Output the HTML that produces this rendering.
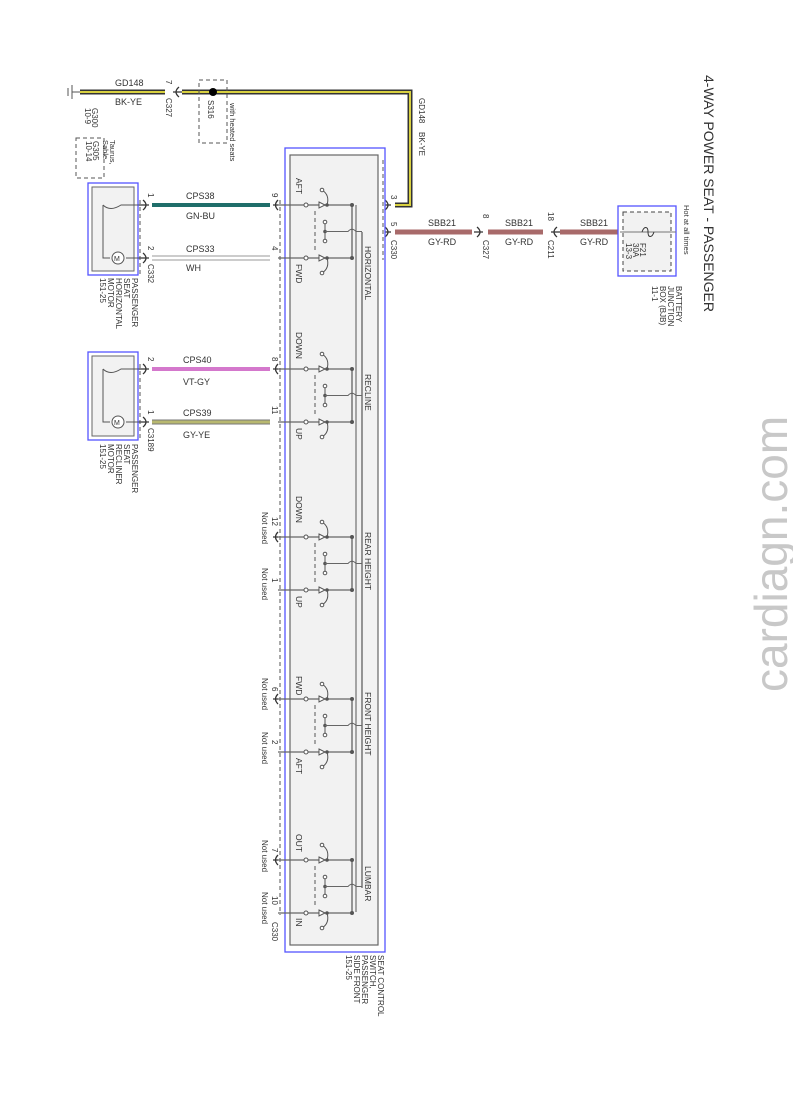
<!DOCTYPE html>
<html><head><meta charset="utf-8"><style>
html,body{margin:0;padding:0;background:#fff}
svg{display:block}
text{font-family:"Liberation Sans",sans-serif;fill:#333}
</style></head><body>
<svg width="793" height="1104" viewBox="0 0 793 1104" xmlns="http://www.w3.org/2000/svg">
<defs>
<g id="pair">
  <line x1="278" y1="0" x2="352" y2="0" stroke="#666" stroke-width="1.2"/>
  <line x1="278" y1="53" x2="352" y2="53" stroke="#666" stroke-width="1.2"/>
  <circle cx="306" cy="0" r="2" fill="#fff" stroke="#555"/>
  <circle cx="306" cy="53" r="2" fill="#fff" stroke="#555"/>
  <path d="M319,-3 L325,0 L319,3 Z M319,50 L325,53 L319,56 Z" fill="#fff" stroke="#555"/>
  <circle cx="327" cy="0" r="1.8" fill="#555"/><circle cx="327" cy="53" r="1.8" fill="#555"/>
  <path d="M327,0 Q330,-10 322,-15" fill="none" stroke="#555"/>
  <path d="M327,53 Q330,63 322,68" fill="none" stroke="#555"/>
  <circle cx="322" cy="-15" r="1.8" fill="#fff" stroke="#555"/>
  <circle cx="322" cy="68" r="1.8" fill="#fff" stroke="#555"/>
  <line x1="315" y1="6" x2="315" y2="48" stroke="#555" stroke-dasharray="4,3"/>
  <line x1="325" y1="16" x2="325" y2="37" stroke="#555"/>
  <circle cx="325" cy="17" r="1.8" fill="#fff" stroke="#555"/>
  <circle cx="325" cy="26.5" r="1.8" fill="#555"/>
  <circle cx="325" cy="36" r="1.8" fill="#fff" stroke="#555"/>
  <path d="M325,26.5 L348,26.5 Q352,22 356,26.5 L362,26.5" fill="none" stroke="#666"/>
  <line x1="352" y1="0" x2="352" y2="53" stroke="#555" stroke-width="1.2"/>
  <circle cx="352" cy="0" r="2" fill="#555"/><circle cx="352" cy="53" r="2" fill="#555"/>
  <path d="M278,-5 Q273,0 278,5 M273,0 L278,0" fill="none" stroke="#333" stroke-width="1.3"/>
</g>
</defs>

<text transform="translate(704,75) rotate(90)" font-size="14" fill="#222">4-WAY POWER SEAT - PASSENGER</text>
<text transform="translate(787,692) rotate(-90)" font-size="46" style="fill:#c8c8c8">cardiagn.com</text>

<line x1="72" y1="85" x2="72" y2="99" stroke="#555"/>
<line x1="68" y1="88" x2="68" y2="96" stroke="#555"/>
<line x1="72" y1="92" x2="80" y2="92" stroke="#555"/>
<path d="M80,92 L165,92 M182,92 L410,92 L410,205 L395,205" fill="none" stroke="#333" stroke-width="5"/>
<path d="M80,92 L165,92 M182,92 L410,92 L410,205 L395,205" fill="none" stroke="#d8d040" stroke-width="2"/>
<path d="M179,87 Q173,92 179,97 M173,92 L182,92" fill="none" stroke="#333" stroke-width="1.3"/>
<circle cx="213" cy="92" r="4" fill="#000"/>
<rect x="199" y="80" width="28" height="63" fill="none" stroke="#555" stroke-dasharray="4,3"/>
<rect x="76" y="138" width="28" height="40" fill="none" stroke="#555" stroke-dasharray="4,3"/>
<text x="115" y="86" font-size="9">GD148</text>
<text x="115" y="105" font-size="9">BK-YE</text>
<text transform="translate(166,80) rotate(90)" font-size="8">7</text>
<text transform="translate(166,98) rotate(90)" font-size="8">C327</text>
<text transform="translate(208,100) rotate(90)" font-size="8">S316</text>
<text transform="translate(230,103) rotate(90)" font-size="7.5">with heated seats</text>
<text transform="translate(92,108) rotate(90)" font-size="8">G300</text>
<text transform="translate(85,108) rotate(90)" font-size="8">10-9</text>
<text transform="translate(93,141) rotate(90)" font-size="8">G305</text>
<text transform="translate(86,141) rotate(90)" font-size="8">10-14</text>
<text transform="translate(110,140) rotate(90)" font-size="7.5">Taurus,</text>
<text transform="translate(103,140) rotate(90)" font-size="7.5">Sable</text>
<text transform="translate(419,98) rotate(90)" font-size="8">GD148</text>
<text transform="translate(419,132) rotate(90)" font-size="8">BK-YE</text>
<text transform="translate(391,195) rotate(90)" font-size="8">3</text>

<g stroke="#a86a6a" stroke-width="5">
<line x1="395" y1="232" x2="472" y2="232"/><line x1="488" y1="232" x2="543" y2="232"/><line x1="560" y1="232" x2="620" y2="232"/>
</g>
<path d="M477,227 Q483,232 477,237 M474,232 L483,232" fill="none" stroke="#333" stroke-width="1.3"/>
<path d="M557,227 Q551,232 557,237 M551,232 L560,232" fill="none" stroke="#333" stroke-width="1.3"/>
<path d="M385,200 Q391,205 385,210 M380,205 L391,205 M385,227 Q391,232 385,237 M362,232 L391,232" fill="none" stroke="#333" stroke-width="1.3"/>
<text x="428" y="226" font-size="9">SBB21</text><text x="428" y="245" font-size="9">GY-RD</text>
<text x="505" y="226" font-size="9">SBB21</text><text x="505" y="245" font-size="9">GY-RD</text>
<text x="580" y="226" font-size="9">SBB21</text><text x="580" y="245" font-size="9">GY-RD</text>
<text transform="translate(391,222) rotate(90)" font-size="8">5</text>
<text transform="translate(391,240) rotate(90)" font-size="8">C330</text>
<text transform="translate(483,214) rotate(90)" font-size="8">8</text>
<text transform="translate(483,240) rotate(90)" font-size="8">C327</text>
<text transform="translate(548,212) rotate(90)" font-size="8">18</text>
<text transform="translate(548,240) rotate(90)" font-size="8">C211</text>
<rect x="618" y="206" width="58" height="70" fill="#fff" stroke="#55f" stroke-width="1.3"/>
<rect x="623" y="212" width="48" height="59" fill="#f2f2f2" stroke="#444" stroke-dasharray="4,3"/>
<line x1="620" y1="232" x2="676" y2="232" stroke="#777"/>
<path d="M642,232 C644,226 648,226 648,232 C648,238 652,238 654,232" fill="none" stroke="#333"/>
<text transform="translate(640,243) rotate(90)" font-size="8">F21</text>
<text transform="translate(633,243) rotate(90)" font-size="8">30A</text>
<text transform="translate(626,243) rotate(90)" font-size="8">13-3</text>
<text transform="translate(684,205) rotate(90)" font-size="7.5">Hot at all times</text>
<text transform="translate(676,286) rotate(90)" font-size="8">BATTERY</text>
<text transform="translate(668,286) rotate(90)" font-size="8">JUNCTION</text>
<text transform="translate(660,286) rotate(90)" font-size="8">BOX (BJB)</text>
<text transform="translate(652,286) rotate(90)" font-size="8">11-1</text>

<rect x="285" y="148" width="100" height="804" fill="#fff" stroke="#55f" stroke-width="1.3"/>
<rect x="290" y="155" width="88" height="790" fill="#f2f2f2" stroke="#666" stroke-width="1.2"/>
<line x1="280" y1="200" x2="280" y2="915" stroke="#555" stroke-dasharray="4,3"/>
<line x1="383" y1="160" x2="383" y2="260" stroke="#555" stroke-dasharray="4,3"/>
<line x1="362" y1="232" x2="362" y2="888" stroke="#555" stroke-width="1.2"/>
<line x1="356" y1="205" x2="356" y2="912" stroke="#555"/>
<use href="#pair" y="205"/>
<use href="#pair" y="369"/>
<use href="#pair" y="537" />
<use href="#pair" y="699"/>
<use href="#pair" y="860"/>
<g font-size="8.5">
<text transform="translate(296,178) rotate(90)">AFT</text>
<text transform="translate(296,264) rotate(90)">FWD</text>
<text transform="translate(296,332) rotate(90)">DOWN</text>
<text transform="translate(296,428) rotate(90)">UP</text>
<text transform="translate(296,496) rotate(90)">DOWN</text>
<text transform="translate(296,596) rotate(90)">UP</text>
<text transform="translate(296,676) rotate(90)">FWD</text>
<text transform="translate(296,758) rotate(90)">AFT</text>
<text transform="translate(296,834) rotate(90)">OUT</text>
<text transform="translate(296,918) rotate(90)">IN</text>
<text transform="translate(365,246) rotate(90)">HORIZONTAL</text>
<text transform="translate(365,374) rotate(90)">RECLINE</text>
<text transform="translate(365,532) rotate(90)">REAR HEIGHT</text>
<text transform="translate(365,692) rotate(90)">FRONT HEIGHT</text>
<text transform="translate(365,866) rotate(90)">LUMBAR</text>
</g>
<g font-size="8">
<text transform="translate(272,193) rotate(90)">9</text>
<text transform="translate(272,246) rotate(90)">4</text>
<text transform="translate(272,357) rotate(90)">8</text>
<text transform="translate(272,406) rotate(90)">11</text>
<text transform="translate(272,517) rotate(90)">12</text>
<text transform="translate(272,578) rotate(90)">1</text>
<text transform="translate(272,687) rotate(90)">6</text>
<text transform="translate(272,740) rotate(90)">2</text>
<text transform="translate(272,848) rotate(90)">7</text>
<text transform="translate(272,896) rotate(90)">10</text>
<text transform="translate(272,922) rotate(90)">C330</text>
<text transform="translate(262,512) rotate(90)">Not used</text>
<text transform="translate(262,568) rotate(90)">Not used</text>
<text transform="translate(262,678) rotate(90)">Not used</text>
<text transform="translate(262,732) rotate(90)">Not used</text>
<text transform="translate(262,840) rotate(90)">Not used</text>
<text transform="translate(262,892) rotate(90)">Not used</text>
</g>
<text transform="translate(378,955) rotate(90)" font-size="8">SEAT CONTROL</text>
<text transform="translate(370,955) rotate(90)" font-size="8">SWITCH,</text>
<text transform="translate(362,955) rotate(90)" font-size="8">PASSENGER</text>
<text transform="translate(354,955) rotate(90)" font-size="8">SIDE FRONT</text>
<text transform="translate(346,955) rotate(90)" font-size="8">151-25</text>

<line x1="152" y1="205" x2="270" y2="205" stroke="#1f6e6a" stroke-width="4"/>
<line x1="152" y1="258" x2="270" y2="258" stroke="#999" stroke-width="5"/>
<line x1="152" y1="258" x2="270" y2="258" stroke="#fff" stroke-width="3"/>
<line x1="152" y1="369" x2="270" y2="369" stroke="#d478cc" stroke-width="4"/>
<line x1="152" y1="422" x2="270" y2="422" stroke="#777" stroke-width="5"/>
<line x1="152" y1="422" x2="270" y2="422" stroke="#b8b870" stroke-width="3"/>
<g font-size="9">
<text x="186" y="199">CPS38</text><text x="186" y="219">GN-BU</text>
<text x="186" y="252">CPS33</text><text x="186" y="271">WH</text>
<text x="183" y="363">CPS40</text><text x="183" y="385">VT-GY</text>
<text x="183" y="416">CPS39</text><text x="183" y="438">GY-YE</text>
</g>
<path d="M143,200 Q149,205 143,210 M138,205 L149,205 M143,253 Q149,258 143,263 M138,258 L149,258 M143,364 Q149,369 143,374 M138,369 L149,369 M143,417 Q149,422 143,427 M138,422 L149,422" fill="none" stroke="#333" stroke-width="1.3"/>
<g font-size="8">
<text transform="translate(148,193) rotate(90)">1</text>
<text transform="translate(148,246) rotate(90)">2</text>
<text transform="translate(148,264) rotate(90)">C332</text>
<text transform="translate(148,357) rotate(90)">2</text>
<text transform="translate(148,410) rotate(90)">1</text>
<text transform="translate(148,428) rotate(90)">C3189</text>
</g>
<line x1="140" y1="200" x2="140" y2="275" stroke="#555" stroke-dasharray="4,3"/>
<line x1="140" y1="364" x2="140" y2="440" stroke="#555" stroke-dasharray="4,3"/>
<g>
<rect x="88" y="183" width="50" height="92" fill="#fff" stroke="#55f" stroke-width="1.3"/>
<rect x="92" y="187" width="42" height="84" fill="#f2f2f2" stroke="#666"/>
<path d="M103,205 L103,258 L110,258 M103,205 Q110,212 121,205 L138,205 M126,258 L138,258" fill="none" stroke="#555"/>
<circle cx="118" cy="258" r="6" fill="#fff" stroke="#555"/><text x="114" y="261" font-size="7">M</text>
<rect x="88" y="352" width="50" height="88" fill="#fff" stroke="#55f" stroke-width="1.3"/>
<rect x="92" y="356" width="42" height="80" fill="#f2f2f2" stroke="#666"/>
<path d="M103,369 L103,422 L110,422 M103,369 Q110,376 121,369 L138,369 M126,422 L138,422" fill="none" stroke="#555"/>
<circle cx="118" cy="422" r="6" fill="#fff" stroke="#555"/><text x="114" y="425" font-size="7">M</text>
</g>
<g font-size="8">
<text transform="translate(132,278) rotate(90)">PASSENGER</text>
<text transform="translate(124,278) rotate(90)">SEAT</text>
<text transform="translate(116,278) rotate(90)">HORIZONTAL</text>
<text transform="translate(108,278) rotate(90)">MOTOR</text>
<text transform="translate(100,278) rotate(90)">151-25</text>
<text transform="translate(132,444) rotate(90)">PASSENGER</text>
<text transform="translate(124,444) rotate(90)">SEAT</text>
<text transform="translate(116,444) rotate(90)">RECLINER</text>
<text transform="translate(108,444) rotate(90)">MOTOR</text>
<text transform="translate(100,444) rotate(90)">151-25</text>
</g>
</svg>
</body></html>
